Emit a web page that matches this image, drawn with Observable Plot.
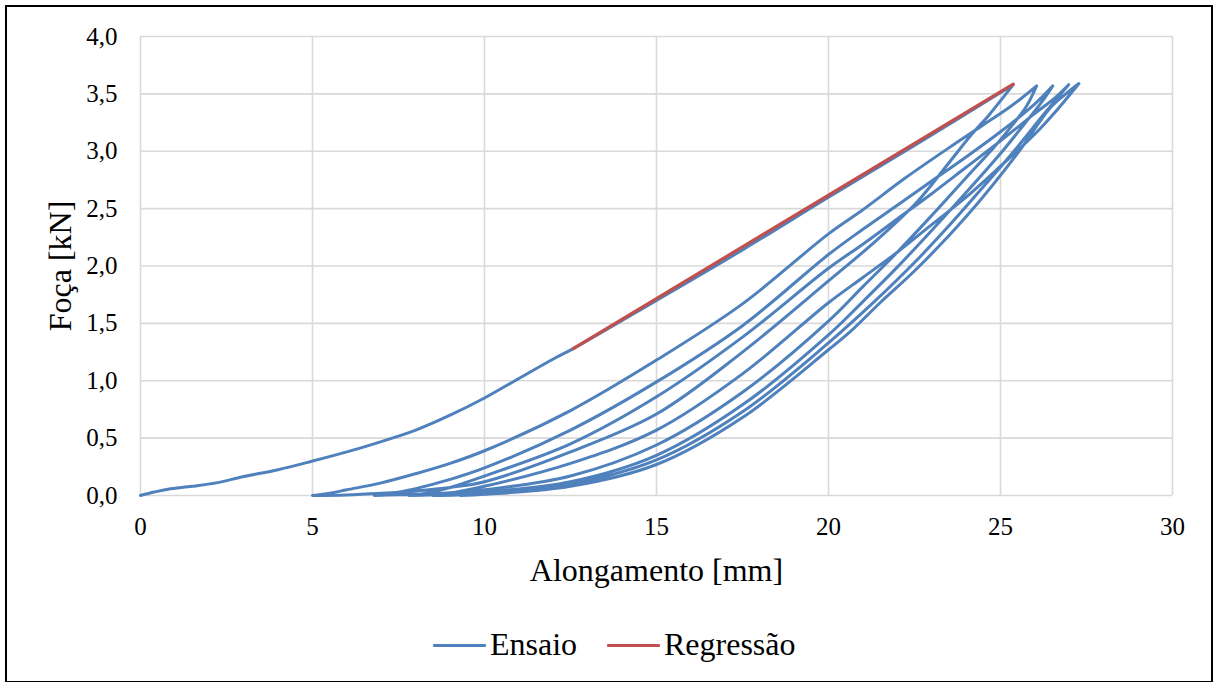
<!DOCTYPE html>
<html>
<head>
<meta charset="utf-8">
<script src="https://cdn.jsdelivr.net/npm/d3@7"></script>
<script src="https://cdn.jsdelivr.net/npm/@observablehq/plot@0.6"></script>
<style>
  body { margin: 0; background: #fff; }
  #wrap { position: relative; width: 1214px; height: 682px; overflow: hidden; font-family: "Liberation Serif", "Times New Roman", serif; }
  #border { position: absolute; left: 5px; top: 5px; width: 1204px; height: 674px; border: 2px solid #000; pointer-events: none; }
  #legend { position: relative; width: 1214px; height: 82px; }
  .lg-line { position: absolute; height: 3px; top: 44px; width: 53px; border-radius: 1px; }
  .lg-text { position: absolute; font-size: 32px; line-height: 36px; top: 26px; color: #000; }
</style>
</head>
<body>
<div id="wrap">
  <div id="chart"></div>
  <div id="legend">
    <div class="lg-line" style="left:433px;background:#4F81BD"></div>
    <div class="lg-text" style="left:490px">Ensaio</div>
    <div class="lg-line" style="left:607px;background:#C0504D"></div>
    <div class="lg-text" style="left:664px">Regressão</div>
  </div>
  <div id="border"></div>
</div>
<script>
// Eixos
const xTicks = [0, 5, 10, 15, 20, 25, 30];
const yTicks = [0, 0.5, 1, 1.5, 2, 2.5, 3, 3.5, 4];

// Ensaio: ciclos de carga / descarga [alongamento mm, força kN]
const carga1 = [[0,0],[0.4,0.03],[0.8,0.055],[1.5,0.08],[2.2,0.11],[3,0.165],[4,0.225],[5,0.30],[6,0.38],[7,0.47],[8,0.57],[9,0.70],[10,0.85],[11,1.02],[12,1.19],[12.58,1.28],[15,1.70],[17.5,2.14],[20,2.60],[22.5,3.05],[25.37,3.58]];
const descarga1 = [[25.37,3.58],[24.65,3.31],[24.17,3.15],[23.45,2.88],[22.58,2.56],[21.42,2.23],[20,1.87],[17.5,1.25],[15,0.71],[12.5,0.38],[10,0.12],[9,0.07],[8,0.04],[7,0.02],[6,0.005],[5,0]];
const carga2 = [[5,0],[5.5,0.02],[6,0.05],[7,0.11],[8,0.19],[9,0.28],[10,0.39],[12.5,0.74],[15,1.18],[17.5,1.67],[20,2.28],[21,2.49],[22.2,2.76],[23.6,3.05],[24.4,3.21],[25.2,3.37],[25.6,3.46],[26.05,3.57]];
const descarga2 = [[26.05,3.57],[25.75,3.39],[25.35,3.23],[24.8,3.03],[24,2.77],[23,2.44],[22,2.12],[21,1.82],[20,1.52],[17.5,0.90],[15,0.44],[12.5,0.17],[10,0.05],[9,0.025],[8,0.01],[6.8,0]];
const carga3 = [[6.8,0],[7.3,0.02],[8,0.06],[9,0.14],[10,0.24],[12.5,0.57],[15,0.99],[17.5,1.48],[20,2.10],[21,2.32],[22,2.53],[23,2.74],[24,2.95],[25,3.17],[25.8,3.36],[26.2,3.47],[26.52,3.57]];
const descarga3 = [[26.52,3.57],[26.2,3.43],[25.7,3.24],[25,2.98],[24,2.64],[23,2.31],[22,1.99],[21,1.69],[20,1.40],[17.5,0.79],[15,0.35],[12.5,0.12],[10,0.03],[9,0.01],[7.8,0]];
const carga4 = [[7.8,0],[8.3,0.02],[9,0.07],[10,0.17],[12.5,0.45],[15,0.86],[17.5,1.38],[20,1.98],[21,2.19],[22,2.41],[23,2.63],[24,2.86],[25,3.09],[26,3.33],[26.6,3.47],[26.98,3.58]];
const descarga4 = [[26.98,3.58],[26.7,3.48],[26.2,3.30],[25.5,3.04],[24.5,2.69],[23.5,2.35],[22.5,2.03],[21.3,1.68],[20,1.33],[17.5,0.73],[15,0.31],[12.5,0.10],[10,0.02],[9.2,0.005],[8.5,0]];
const carga5 = [[8.5,0],[9,0.02],[10,0.08],[12.5,0.28],[15,0.57],[17.5,1.06],[20,1.68],[21,1.90],[22,2.12],[23,2.36],[24,2.60],[25,2.87],[26,3.15],[26.7,3.38],[27.28,3.59]];
const descarga5 = [[27.28,3.59],[26.94,3.51],[26.45,3.38],[25.49,2.98],[24.03,2.44],[22.58,1.98],[21.5,1.68],[20.64,1.43],[20,1.27],[17.5,0.68],[15,0.27],[12.5,0.08],[10,0.01],[9.3,0]];

// Regressão linear
const regressaoX = [12.58, 25.37];
const regressaoY = [1.28, 3.585];

const ensaio = [carga1, descarga1, carga2, descarga2, carga3, descarga3, carga4, descarga4, carga5, descarga5]
  .flat().map(([x, y]) => ({x, y}));
const regressao = regressaoX.map((x, i) => ({x, y: regressaoY[i]}));

const fmt = d => d.toFixed(1).replace(".", ",");
const grid = "#d9d9d9";
const serif = "Liberation Serif, Times New Roman, serif";

const chart = Plot.plot({
  width: 1214,
  height: 600,
  marginLeft: 140,
  marginRight: 42,
  marginTop: 36,
  marginBottom: 105,
  style: {fontFamily: serif, fontSize: "25px", color: "#000", background: "#fff"},
  x: {domain: [0, 30]},
  y: {domain: [0, 4]},
  marks: [
    Plot.gridX(xTicks, {stroke: grid, strokeOpacity: 1, strokeWidth: 1.6}),
    Plot.gridY(yTicks, {stroke: grid, strokeOpacity: 1, strokeWidth: 1.6}),
    Plot.axisX({ticks: xTicks, tickSize: 0, tickPadding: 22, label: null, fontSize: 25, fontFamily: serif, fontVariant: "normal"}),
    Plot.axisY({ticks: yTicks, tickSize: 0, tickPadding: 23, tickFormat: fmt, label: null, fontSize: 25, fontFamily: serif, fontVariant: "normal"}),
    Plot.line(ensaio, {x: "x", y: "y", stroke: "#4F81BD", strokeWidth: 3, curve: "catmull-rom"}),
    Plot.line(regressao, {x: "x", y: "y", stroke: "#C0504D", strokeWidth: 3.2}),
    Plot.text(["Alongamento [mm]"], {text: d => d, frameAnchor: "bottom", dy: 85, textAnchor: "middle", lineAnchor: "bottom", fontSize: 32, fontFamily: serif, fill: "#000"}),
    Plot.text(["Foça [kN]"], {text: d => d, frameAnchor: "left", dx: -70, rotate: -90, textAnchor: "middle", lineAnchor: "bottom", fontSize: 32, fontFamily: serif, fill: "#000"})
  ]
});
document.getElementById("chart").appendChild(chart);
</script>
</body>
</html>
